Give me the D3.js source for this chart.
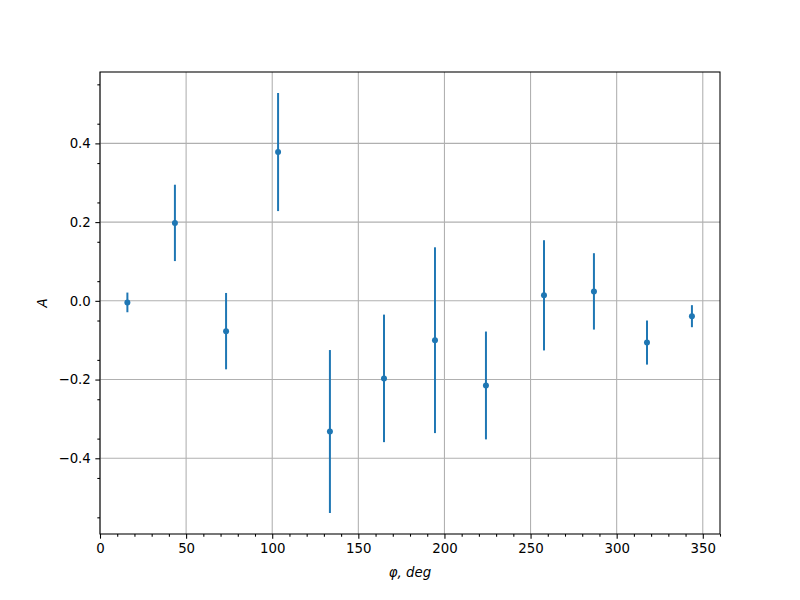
<!DOCTYPE html>
<html><head><meta charset="utf-8">
<script src="https://cdn.jsdelivr.net/npm/d3@7"></script>
<style>body{margin:0;background:#fff}svg{display:block}text{font-family:"DejaVu Sans",sans-serif}</style>
</head><body>
<svg id="c" width="800" height="600"></svg>
<script>
const phi = [15.9, 43.5, 73.2, 103.4, 133.5, 164.9, 194.5, 224.1, 257.8, 286.8, 317.6, 343.7];
const A   = [-0.004, 0.198, -0.077, 0.378, -0.332, -0.197, -0.100, -0.215, 0.014, 0.024, -0.106, -0.039];
const err = [0.025, 0.097, 0.097, 0.150, 0.207, 0.162, 0.236, 0.137, 0.140, 0.097, 0.056, 0.028];
const xTicks = [0, 50, 100, 150, 200, 250, 300, 350];
const yTicks = [-0.4, -0.2, 0.0, 0.2, 0.4];
const xMinor = d3.range(0, 361, 10);
const yMinor = d3.range(-0.55, 0.5501, 0.05);

const svg = d3.select("#c");
const L = 100, R = 720, T = 72, B = 534;
const x = d3.scaleLinear().domain([0, 360]).range([L, R]);
const ymin = d3.min(A.map((v,i)=>v-err[i])), ymax = d3.max(A.map((v,i)=>v+err[i]));
const pad = (ymax - ymin) * 0.05;
const y = d3.scaleLinear().domain([ymin - pad, ymax + pad]).range([B, T]);
const color = "#1f77b4";

// grid
const g = svg.append("g");
g.selectAll(".gx").data(xTicks).join("line")
  .attr("x1", d=>x(d)).attr("x2", d=>x(d)).attr("y1", T).attr("y2", B)
  .attr("stroke", "#b0b0b0").attr("stroke-width", 1.07);
g.selectAll(".gy").data(yTicks).join("line")
  .attr("y1", d=>y(d)).attr("y2", d=>y(d)).attr("x1", L).attr("x2", R)
  .attr("stroke", "#b0b0b0").attr("stroke-width", 1.07);

// error bars
svg.append("g").selectAll("line").data(phi).join("line")
  .attr("x1", (d)=>x(d)).attr("x2", (d)=>x(d))
  .attr("y1", (d,i)=>y(A[i]+err[i])).attr("y2", (d,i)=>y(A[i]-err[i]))
  .attr("stroke", color).attr("stroke-width", 2);
svg.append("g").selectAll("circle").data(phi).join("circle")
  .attr("cx", d=>x(d)).attr("cy", (d,i)=>y(A[i])).attr("r", 3)
  .attr("fill", color);

// axes
const fmtY = d => d3.format(".1f")(d).replace("-", "\u2212");
const xAx = svg.append("g").attr("transform", `translate(0,${B})`)
  .call(d3.axisBottom(x).tickValues(xTicks).tickSize(4.67).tickPadding(4.5).tickFormat(d3.format("d")));
svg.append("g").attr("transform", `translate(0,${B})`)
  .call(d3.axisBottom(x).tickValues(xMinor.filter(v=>v%50!==0)).tickSize(2.67).tickFormat(""))
  .call(s=>s.select(".domain").remove());
const yAx = svg.append("g").attr("transform", `translate(${L},0)`)
  .call(d3.axisLeft(y).tickValues(yTicks).tickSize(4.67).tickPadding(4.5).tickFormat(fmtY));
svg.append("g").attr("transform", `translate(${L},0)`)
  .call(d3.axisLeft(y).tickValues(yMinor.filter(v=>Math.abs(Math.round(v*10)-v*10)>0.01)).tickSize(2.67).tickFormat(""))
  .call(s=>s.select(".domain").remove());
svg.selectAll(".domain").remove();
svg.selectAll(".tick line").attr("stroke", "#000").attr("stroke-width", 1.07);
svg.selectAll(".tick text").attr("font-size", 13.33).attr("fill", "#000").attr("font-family", "DejaVu Sans");

// spines
svg.append("rect").attr("x", L).attr("y", T).attr("width", R-L).attr("height", B-T)
  .attr("fill", "none").attr("stroke", "#000").attr("stroke-width", 1.07);

// labels
svg.append("text").attr("x", (L+R)/2).attr("y", 577).attr("text-anchor", "middle")
  .attr("font-size", 13.33).attr("font-style", "italic").text("φ, deg");
svg.append("text").attr("transform", `translate(47,${(T+B)/2}) rotate(-90)`).attr("text-anchor", "middle")
  .attr("font-size", 13.33).attr("font-style", "italic").text("A");
</script>
</body></html>
